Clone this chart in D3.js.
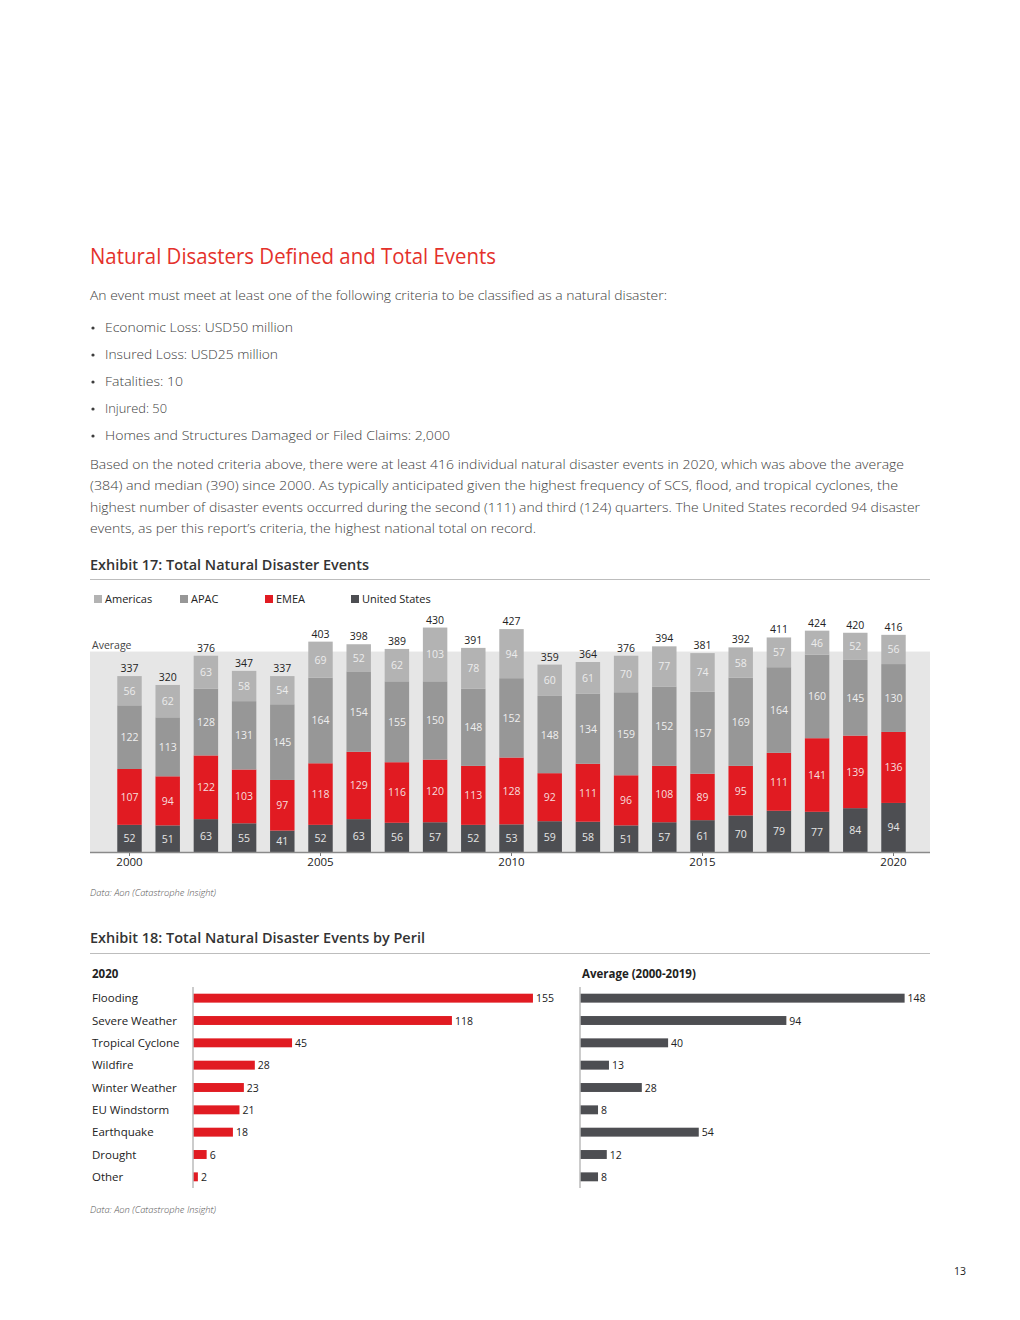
<!DOCTYPE html>
<html><head><meta charset="utf-8">
<script src="https://cdn.jsdelivr.net/npm/d3@7"></script>
<style>
body{margin:0;background:#fff;}
svg{display:block;font-family:"Open Sans",sans-serif;}
</style></head>
<body>
<svg id="page" width="1020" height="1320"></svg>
<script>
const years = d3.range(2000, 2021);
const unitedStates = [52,51,63,55,41,52,63,56,57,52,53,59,58,51,57,61,70,79,77,84,94];
const emea = [107,94,122,103,97,118,129,116,120,113,128,92,111,96,108,89,95,111,141,139,136];
const apac = [122,113,128,131,145,164,154,155,150,148,152,148,134,159,152,157,169,164,160,145,130];
const americas = [56,62,63,58,54,69,52,62,103,78,94,60,61,70,77,74,58,57,46,52,56];
const averageEvents = 384;
const yearTicks = [2000, 2005, 2010, 2015, 2020];
const seriesNames = ["Americas", "APAC", "EMEA", "United States"];

const perils = ["Flooding","Severe Weather","Tropical Cyclone","Wildfire","Winter Weather","EU Windstorm","Earthquake","Drought","Other"];
const perils2020 = [155,118,45,28,23,21,18,6,2];
const perilsAverage = [148,94,40,13,28,8,54,12,8];

const svg = d3.select("#page");
const TXT = "#3d3d3d";

// ---------- Text ----------
svg.append("text").attr("x",90).attr("y",264).attr("fill","#e4312b")
  .style("font-size","21px").text("Natural Disasters Defined and Total Events")
  .attr("textLength",406).attr("lengthAdjust","spacingAndGlyphs");

function line(x,y,str,width){
  const t = svg.append("text").attr("x",x).attr("y",y).attr("fill",TXT)
    .style("font-size","13.5px").style("font-weight",300).text(str);
  if(width){ t.attr("textLength",width).attr("lengthAdjust","spacingAndGlyphs"); }
  return t;
}
line(90,300,"An event must meet at least one of the following criteria to be classified as a natural disaster:",577);
const bullets = ["Economic Loss: USD50 million","Insured Loss: USD25 million","Fatalities: 10","Injured: 50","Homes and Structures Damaged or Filed Claims: 2,000"];
const bulletW = [188,173,78,62,345];
bullets.forEach((b,i)=>{
  const y = 332 + i*27;
  svg.append("circle").attr("cx",93).attr("cy",y-4).attr("r",1.6).attr("fill",TXT);
  line(105,y,b,bulletW[i]);
});
const para = [
 "Based on the noted criteria above, there were at least 416 individual natural disaster events in 2020, which was above the average",
 "(384) and median (390) since 2000. As typically anticipated given the highest frequency of SCS, flood, and tropical cyclones, the",
 "highest number of disaster events occurred during the second (111) and third (124) quarters. The United States recorded 94 disaster",
 "events, as per this report\u2019s criteria, the highest national total on record."];
const paraW = [814,808,830,446];
para.forEach((p,i)=> line(90,468.5+i*21.5,p,paraW[i]));

function exhibitTitle(y,str,w){
  svg.append("text").attr("x",90).attr("y",y).attr("fill","#333")
    .style("font-size","15px").style("font-weight",600).text(str)
    .attr("textLength",w).attr("lengthAdjust","spacingAndGlyphs");
}
exhibitTitle(570,"Exhibit 17: Total Natural Disaster Events",279);
svg.append("line").attr("x1",90).attr("x2",930).attr("y1",579.5).attr("y2",579.5).attr("stroke","#bdbdbd").attr("stroke-width",1.2);

// ---------- Stacked bar chart ----------
const colors = {"Americas":"#b3b3b3","APAC":"#979797","EMEA":"#e11b22","United States":"#4d4e52"};
const labelColors = {"Americas":"#ececec","APAC":"#efefef","EMEA":"#f7dede","United States":"#e6e6e6"};

const legendX = [94,180,265,351];
seriesNames.forEach((s,i)=>{
  svg.append("rect").attr("x",legendX[i]).attr("y",595).attr("width",8).attr("height",8).attr("fill",colors[s]);
  svg.append("text").attr("x",legendX[i]+11).attr("y",603).attr("fill","#222").style("font-size","11px").text(s);
});

const baseY = 852;
const y = d3.scaleLinear().domain([0,430]).range([baseY, baseY - 430*0.522]);
const x = d3.scaleBand().domain(years).range([110.4,912.6]).paddingInner(0.36).paddingOuter(0.18);

// average band
svg.append("rect").attr("x",90).attr("width",840).attr("y",y(averageEvents)).attr("height",baseY - y(averageEvents)).attr("fill","#e6e6e6");
svg.append("text").attr("x",92).attr("y",y(averageEvents)-3).attr("fill","#444").style("font-size","10.5px").text("Average");

const rows = years.map((yr,i)=>({year:yr, "United States":unitedStates[i], "EMEA":emea[i], "APAC":apac[i], "Americas":americas[i]}));
const total = d => d["United States"]+d.EMEA+d.APAC+d.Americas;
const stackOrder = ["United States","EMEA","APAC","Americas"];
const stacked = d3.stack().keys(stackOrder)(rows);

const g = svg.append("g");
stacked.forEach(layer=>{
  const key = layer.key;
  g.selectAll(null).data(layer).enter().append("rect")
    .attr("x", d=>x(d.data.year)).attr("width", x.bandwidth())
    .attr("y", d=>y(d[1])).attr("height", d=>y(d[0])-y(d[1]))
    .attr("fill", colors[key]);
  g.selectAll(null).data(layer).enter().append("text")
    .attr("x", d=>x(d.data.year)+x.bandwidth()/2)
    .attr("y", d=>(y(d[0])+y(d[1]))/2+4)
    .attr("text-anchor","middle").attr("fill",labelColors[key])
    .style("font-size","10.5px").text(d=>d.data[key]);
});
// totals
g.selectAll(null).data(rows).enter().append("text")
  .attr("x", d=>x(d.year)+x.bandwidth()/2)
  .attr("y", d=>y(total(d))-4)
  .attr("text-anchor","middle").attr("fill","#222").style("font-size","10.5px")
  .text(d=>total(d));

// x axis
const xAxis = d3.axisBottom(x).tickValues(yearTicks).tickSize(4).tickSizeOuter(0);
const ax = svg.append("g").attr("transform",`translate(0,${baseY})`).call(xAxis);
ax.select(".domain").remove();
ax.selectAll(".tick line").attr("stroke","#777");
ax.selectAll(".tick text").attr("fill","#222").style("font-size","11.5px").style("font-family","'Open Sans',sans-serif").attr("y",6).attr("dy","0.71em");
svg.append("line").attr("x1",90).attr("x2",930).attr("y1",baseY+0.5).attr("y2",baseY+0.5).attr("stroke","#8a8a8a").attr("stroke-width",1.5);

function source(yv){
  svg.append("text").attr("x",90).attr("y",yv).attr("fill","#555").style("font-size","9.3px").style("font-style","italic").style("font-weight",300).text("Data: Aon (Catastrophe Insight)")
    .attr("textLength",126).attr("lengthAdjust","spacingAndGlyphs");
}
source(896);

// ---------- Exhibit 18 ----------
exhibitTitle(943,"Exhibit 18: Total Natural Disaster Events by Peril",335);
svg.append("line").attr("x1",90).attr("x2",930).attr("y1",953.5).attr("y2",953.5).attr("stroke","#bdbdbd").attr("stroke-width",1.2);

svg.append("text").attr("x",92).attr("y",978).attr("fill","#222").style("font-size","11.5px").style("font-weight",700).text("2020");
svg.append("text").attr("x",582).attr("y",978).attr("fill","#222").style("font-size","11.5px").style("font-weight",700).text("Average (2000-2019)");

const yP = d3.scaleBand().domain(perils).range([987,1188]).paddingInner(0.6).paddingOuter(0.3);
const xP = d3.scaleLinear().domain([0,155]).range([0,155*2.19]);

function hbars(x0, values, color, showLabels){
  const gg = svg.append("g");
  gg.selectAll(null).data(perils).enter().append("rect")
    .attr("x",x0).attr("y",d=>yP(d)).attr("height",yP.bandwidth())
    .attr("width",(d,i)=>xP(values[i])).attr("fill",color);
  gg.selectAll(null).data(perils).enter().append("text")
    .attr("x",(d,i)=>x0+xP(values[i])+3).attr("y",d=>yP(d)+yP.bandwidth()/2+4)
    .attr("fill","#222").style("font-size","10.5px").text((d,i)=>values[i]);
  svg.append("line").attr("x1",x0-0.5).attr("x2",x0-0.5).attr("y1",987).attr("y2",1188).attr("stroke","#999").attr("stroke-width",1);
  if(showLabels){
    const yAxis = d3.axisLeft(yP).tickSize(0);
    const a = svg.append("g").attr("transform","translate(92,0)").call(yAxis);
    a.select(".domain").remove();
    a.selectAll(".tick text").attr("text-anchor","start").attr("x",0).attr("fill","#222").style("font-size","11.5px").style("font-family","'Open Sans',sans-serif").attr("dy","0.35em");
  }
}
hbars(193.5, perils2020, "#e11b22", true);
hbars(580.5, perilsAverage, "#4d4e52", false);

source(1213);

svg.append("text").attr("x",966).attr("y",1275).attr("text-anchor","end").attr("fill","#222").style("font-size","10.5px").text("13");
</script>
</body></html>
